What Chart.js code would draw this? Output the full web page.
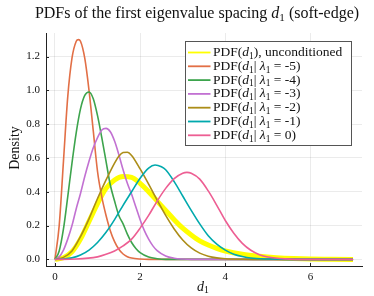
<!DOCTYPE html>
<html><head><meta charset="utf-8">
<script src="https://cdn.jsdelivr.net/npm/chart.js@4/dist/chart.umd.min.js"></script>
<style>html,body{margin:0;padding:0;background:#fff}</style>
</head><body>
<canvas id="c" width="374" height="296" style="width:374px;height:296px;display:block"></canvas>
<script>
const titleText = 'PDFs of the first eigenvalue spacing d₁ (soft-edge)';
const xTitle = 'd₁';
const yTitle = 'Density';
const seriesLabels = ['PDF(d₁), unconditioned','PDF(d₁| λ₁ = -5)','PDF(d₁| λ₁ = -4)','PDF(d₁| λ₁ = -3)','PDF(d₁| λ₁ = -2)','PDF(d₁| λ₁ = -1)','PDF(d₁| λ₁ = 0)'];
const xTicks = [0, 2, 4, 6];
const yTicks = [0, 0.2, 0.4, 0.6, 0.8, 1.0, 1.2];

const uncondX = [0,0.2,0.4,0.6,0.8,1.0,1.2,1.4,1.6,1.8,2.0,2.2,2.4,2.6,2.8,3.0,3.2,3.4,3.6,3.8,4.0,4.4,4.8,5.2,5.6,6.0,6.5,7];
const uncondY = [0,0.01,0.045,0.12,0.225,0.33,0.42,0.47,0.49,0.485,0.45,0.40,0.345,0.29,0.235,0.185,0.145,0.11,0.085,0.065,0.05,0.03,0.018,0.01,0.005,0.002,0.001,0];

const m5X = [0,0.1,0.2,0.3,0.4,0.5,0.55,0.6,0.7,0.8,0.9,1.0,1.1,1.2,1.3,1.4,1.5,1.6,1.7,1.8,2.0,2.2,7];
const m5Y = [0,0.2,0.58,0.96,1.19,1.29,1.30,1.29,1.19,1.0,0.76,0.52,0.37,0.26,0.17,0.105,0.06,0.032,0.016,0.008,0.002,0,0];

const m4X = [0,0.1,0.2,0.3,0.4,0.5,0.6,0.7,0.8,0.9,1.0,1.1,1.2,1.3,1.4,1.5,1.6,1.7,1.8,1.9,2.0,2.2,2.4,2.6,7];
const m4Y = [0,0.05,0.18,0.37,0.57,0.75,0.89,0.97,0.99,0.95,0.85,0.72,0.58,0.44,0.345,0.26,0.21,0.15,0.10,0.065,0.04,0.014,0.004,0,0];

const m3X = [0,0.1,0.2,0.3,0.4,0.5,0.6,0.7,0.8,0.9,1.0,1.1,1.2,1.3,1.4,1.5,1.6,1.7,1.8,1.9,2.0,2.1,2.2,2.3,2.4,2.6,2.8,3.0,3.2,7];
const m3Y = [0,0.015,0.055,0.12,0.2,0.3,0.39,0.49,0.58,0.66,0.72,0.765,0.775,0.755,0.70,0.62,0.53,0.45,0.385,0.31,0.235,0.17,0.12,0.08,0.052,0.02,0.007,0.002,0,0];

const m2X = [0,0.2,0.4,0.6,0.8,1.0,1.2,1.4,1.5,1.6,1.7,1.8,2.0,2.2,2.4,2.6,2.8,3.0,3.2,3.4,3.6,3.8,4.0,4.4,5,7];
const m2Y = [0,0.012,0.05,0.135,0.24,0.36,0.47,0.57,0.61,0.632,0.634,0.615,0.535,0.445,0.35,0.26,0.18,0.115,0.068,0.037,0.019,0.009,0.004,0.001,0,0];

const m1X = [0,0.2,0.4,0.6,0.8,1.0,1.2,1.4,1.6,1.8,2.0,2.2,2.35,2.5,2.6,2.8,3.0,3.2,3.4,3.6,3.8,4.0,4.2,4.4,4.6,5.0,5.5,7];
const m1Y = [0,0.002,0.009,0.026,0.055,0.1,0.16,0.235,0.32,0.40,0.48,0.54,0.558,0.548,0.53,0.46,0.375,0.29,0.21,0.14,0.09,0.055,0.031,0.017,0.008,0.002,0,0];

const z0X = [0,0.5,1.0,1.2,1.4,1.6,1.8,2.0,2.2,2.4,2.6,2.8,3.0,3.1,3.2,3.4,3.6,3.8,4.0,4.2,4.4,4.6,4.8,5.0,5.4,6.0,7];
const z0Y = [0,0.002,0.015,0.03,0.05,0.08,0.12,0.185,0.26,0.345,0.42,0.478,0.51,0.515,0.51,0.475,0.405,0.32,0.23,0.155,0.095,0.054,0.028,0.014,0.003,0,0];

const colors = ['#FFFF00','#E26F46','#3DA44D','#C271D2','#AC8D18','#00A9AD','#ED5E93'];
const xsAll = [uncondX, m5X, m4X, m3X, m2X, m1X, z0X];
const ysAll = [uncondY, m5Y, m4Y, m3Y, m2Y, m1Y, z0Y];

const SERIF = '"Liberation Serif", "DejaVu Serif", serif';

function richSegments(str){
  const segs=[];
  for (let i=0;i<str.length;i++){
    const ch=str[i];
    if (ch==='₁') segs.push({t:'1',sub:true});
    else if (ch==='λ' || (ch==='d' && str[i+1]==='₁')) segs.push({t:ch,it:true});
    else {
      const last=segs[segs.length-1];
      if (last && !last.sub && !last.it) last.t+=ch; else segs.push({t:ch});
    }
  }
  return segs;
}
function drawRich(ctx,str,x,y,size,align){
  const segs=richSegments(str);
  const font=s=>(s.it?'italic ':'')+(s.sub?size*0.7:size)+'px '+SERIF;
  let w=0;
  segs.forEach(s=>{ctx.font=font(s); s.w=ctx.measureText(s.t).width; w+=s.w;});
  let cx = align==='center'? x-w/2 : (align==='right'? x-w : x);
  ctx.textBaseline='middle'; ctx.textAlign='left';
  segs.forEach(s=>{ctx.font=font(s); ctx.fillText(s.t,cx,y+(s.sub?size*0.28:0)); cx+=s.w;});
}

const decor = {
  id:'decor',
  afterDraw(chart){
    const ctx=chart.ctx, a=chart.chartArea;
    ctx.save();
    ctx.fillStyle='#111';
    drawRich(ctx,titleText,197,14,16,'center');
    drawRich(ctx,xTitle,203,287,14,'center');
    ctx.save();
    ctx.translate(15,148); ctx.rotate(-Math.PI/2);
    drawRich(ctx,yTitle,0,0,14,'center');
    ctx.restore();
    ctx.strokeStyle='#222'; ctx.lineWidth=1;
    const xs=chart.scales.x, ys=chart.scales.y;
    xTicks.forEach(v=>{const px=Math.round(xs.getPixelForValue(v))+0.5; ctx.beginPath(); ctx.moveTo(px,a.bottom); ctx.lineTo(px,a.bottom-3); ctx.stroke();});
    yTicks.forEach(v=>{const py=Math.round(ys.getPixelForValue(v))+0.5; ctx.beginPath(); ctx.moveTo(a.left,py); ctx.lineTo(a.left+3,py); ctx.stroke();});
    const L=185.5, T=41.5, R=351.5, B=145.5;
    ctx.fillStyle='#fff'; ctx.fillRect(L,T,R-L,B-T);
    ctx.strokeStyle='#555'; ctx.lineWidth=1; ctx.strokeRect(L,T,R-L,B-T);
    chart.data.datasets.forEach((ds,i)=>{
      const cy=52.5+i*13.8;
      ctx.strokeStyle=ds.borderColor; ctx.lineWidth=1.8;
      ctx.beginPath(); ctx.moveTo(188,cy); ctx.lineTo(210.5,cy); ctx.stroke();
      ctx.fillStyle='#111';
      drawRich(ctx,ds.label,213,cy,13.5,'left');
    });
    ctx.restore();
  }
};

const datasets = seriesLabels.map((lab,i)=>({
  label: lab,
  data: xsAll[i].map((x,j)=>({x:x, y:ysAll[i][j]})),
  borderColor: colors[i],
  backgroundColor: colors[i],
  borderWidth: i===0 ? 5 : 1.6,
  pointRadius: 0,
  fill: false,
  cubicInterpolationMode: 'monotone',
  order: 7 - i
}));

new Chart(document.getElementById('c'), {
  type: 'line',
  data: { datasets },
  options: {
    responsive: false,
    animation: false,
    layout: { padding: { top: 33, right: 12, left: 0, bottom: 0 } },
    plugins: { legend: { display: false }, title: { display: false }, tooltip: { enabled: false } },
    scales: {
      x: {
        type: 'linear', min: -0.21, max: 7.21,
        afterBuildTicks: s => { s.ticks = xTicks.map(v => ({ value: v })); },
        afterFit: s => { s.height = 30; },
        grid: { color: 'rgba(0,0,0,0.08)', drawTicks: false },
        border: { display: true, color: '#222', width: 1 },
        ticks: { color: '#111', padding: 5, maxRotation: 0, font: { family: SERIF, size: 11 }, callback: v => String(v) }
      },
      y: {
        type: 'linear', min: -0.039, max: 1.339,
        afterBuildTicks: s => { s.ticks = yTicks.map(v => ({ value: v })); },
        afterFit: s => { s.width = 46; },
        grid: { color: 'rgba(0,0,0,0.08)', drawTicks: false },
        border: { display: true, color: '#222', width: 1 },
        ticks: { color: '#111', padding: 6, font: { family: SERIF, size: 11 }, callback: v => Number(v).toFixed(1) }
      }
    }
  },
  plugins: [decor]
});
</script>
</body></html>
